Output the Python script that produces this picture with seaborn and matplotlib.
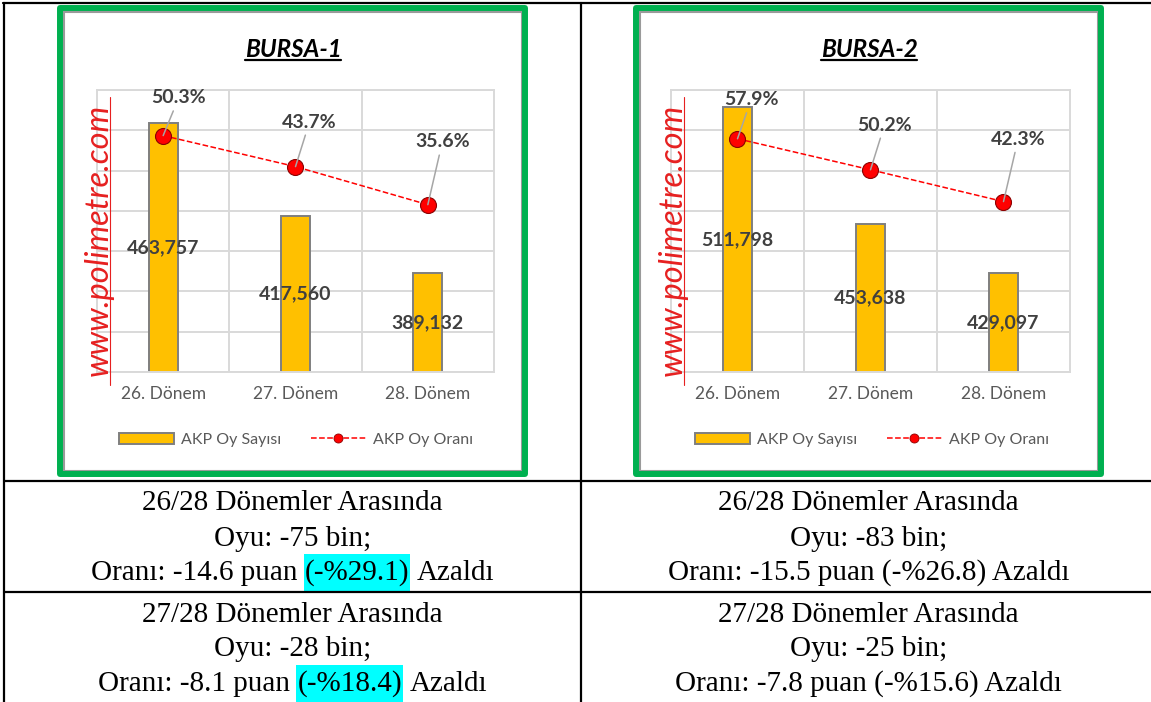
import numpy as np
import pandas as pd
import seaborn as sns
import matplotlib.pyplot as plt
from matplotlib.lines import Line2D
from matplotlib.patches import Patch, Rectangle

# values
donemler = ['26. Dönem', '27. Dönem', '28. Dönem']
bursa1_oy = [463757, 417560, 389132]
bursa1_oran = [50.3, 43.7, 35.6]
bursa2_oy = [511798, 453638, 429097]
bursa2_oran = [57.9, 50.2, 42.3]

legend_labels = ['AKP Oy Sayısı', 'AKP Oy Oranı']
watermark = 'www.polimetre.com'

# table cells under the charts (3-part lines carry a highlighted middle piece)
bursa1_notes = [
    ['26/28 Dönemler Arasında', 'Oyu: -75 bin;', ('Oranı: -14.6 puan', '(-%29.1)', 'Azaldı')],
    ['27/28 Dönemler Arasında', 'Oyu: -28 bin;', ('Oranı: -8.1 puan', '(-%18.4)', 'Azaldı')],
]
bursa2_notes = [
    ['26/28 Dönemler Arasında', 'Oyu: -83 bin;', 'Oranı: -15.5 puan (-%26.8) Azaldı'],
    ['27/28 Dönemler Arasında', 'Oyu: -25 bin;', 'Oranı: -7.8 puan (-%15.6) Azaldı'],
]

W, H = 1151, 702
BAR = '#FFC000'
GRID = '#d9d9d9'
TXT = '#404040'
SERIF = ['Liberation Serif', 'DejaVu Serif']

sns.set_theme(style='white')
plt.rcParams['font.family'] = ['Lato', 'DejaVu Sans']


def fx(x):
    return x / W


def fy(y):
    return 1 - y / H


fig = plt.figure(figsize=(W / 100, H / 100), dpi=100)
fig.patch.set_facecolor('white')

charts = [
    dict(title='BURSA-1', oy=bursa1_oy, oran=bursa1_oran, ylim=(340000, 480000), ylim2=(0, 60),
         frame=(60, 525), plot=(97, 494), title_x=293, legend_x=296, wm_x=99,
         offsets=[(15.5, 37.7), (14, 44.6), (14.5, 62.7)]),
    dict(title='BURSA-2', oy=bursa2_oy, oran=bursa2_oran, ylim=(380000, 520000), ylim2=(0, 70),
         frame=(636.3, 1101), plot=(671, 1070), title_x=869, legend_x=872, wm_x=673,
         offsets=[(13.6, 39), (14, 44.7), (14.6, 62.3)]),
]

renderer = fig.canvas.get_renderer()

for c in charts:
    # green frame with thin grey inner border
    x0, x1 = c['frame']
    fig.add_artist(Rectangle((fx(x0 + 3.5), fy(470.5)), (x1 - x0 - 7) / W, (470.5 - 11.5) / H,
                             transform=fig.transFigure, fill=False, ec='#9a9a9a', lw=1.5))
    fig.add_artist(Rectangle((fx(x0), fy(474)), (x1 - x0) / W, (474 - 8) / H,
                             transform=fig.transFigure, fill=False, ec='#00b050', lw=4.3,
                             joinstyle='round'))

    p0, p1 = c['plot']
    ax = fig.add_axes([fx(p0), fy(372), (p1 - p0) / W, (372 - 90) / H])
    sns.barplot(x=donemler, y=c['oy'], ax=ax, color=BAR, saturation=1, width=0.22,
                edgecolor='#7f7f7f', linewidth=1.4, zorder=2)
    lo, hi = c['ylim']
    ax.set_ylim(lo, hi)
    ax.set_xlim(-0.5, 2.5)
    ax.set_yticks(np.arange(lo, hi + 1, 20000))
    ax.set_yticklabels([])
    for i, v in enumerate(c['oy']):
        ax.text(i, (lo + v) / 2, f'{v:,}', ha='center', va='center', fontsize=14,
                fontweight='bold', color=TXT, zorder=4)

    ax2 = ax.twinx()
    sns.pointplot(x=donemler, y=c['oran'], ax=ax2, color='red', markers='o', linestyles='--',
                  errorbar=None, markersize=11.5, markeredgecolor='#8b0000',
                  markeredgewidth=0.8, linewidth=1.1)
    ax2.set_ylim(*c['ylim2'])
    ax2.set_yticks([])
    for s in ax2.spines.values():
        s.set_visible(False)
    for i, v in enumerate(c['oran']):
        ax2.annotate(f'{v}%', xy=(i, v), xytext=c['offsets'][i], textcoords='offset pixels',
                     ha='center', va='center', fontsize=14, fontweight='bold', color=TXT,
                     arrowprops=dict(arrowstyle='-', color='#a6a6a6', lw=1.1,
                                     shrinkA=1, shrinkB=0))

    ax.set_xlabel('')
    ax.set_ylabel('')
    ax2.set_ylabel('')
    ax.tick_params(axis='x', length=0, labelsize=12.5, labelcolor='#595959', pad=10)
    ax.tick_params(axis='y', length=0)
    ax.set_xticks([0.5, 1.5], minor=True)
    ax.xaxis.grid(False, which='major')
    ax.xaxis.grid(True, which='minor', color=GRID, lw=1.4)
    ax.yaxis.grid(True, color=GRID, lw=1.4)
    ax.set_axisbelow(True)
    for s in ax.spines.values():
        s.set_visible(True)
        s.set_color(GRID)
        s.set_linewidth(1.4)

    handles = [Patch(facecolor=BAR, edgecolor='#7f7f7f', lw=1.4),
               Line2D([], [], color='red', ls='--', lw=1.1, marker='o', markersize=6.5,
                      markerfacecolor='red', markeredgecolor='#8b0000', markeredgewidth=0.6)]
    ax.legend(handles, legend_labels, loc='center', bbox_to_anchor=(fx(c['legend_x']), fy(440)),
              bbox_transform=fig.transFigure, ncol=2, frameon=False, fontsize=11.5,
              handlelength=3.4, handleheight=0.7, handletextpad=0.45, columnspacing=1.9,
              labelcolor='#595959')

    # title, underlined
    t = fig.text(fx(c['title_x']), fy(56.7), c['title'], ha='center', va='baseline', fontsize=17.5,
                 fontweight='bold', style='italic', color='black')
    bb = t.get_window_extent(renderer)
    fig.add_artist(Line2D([bb.x0 / W, bb.x1 / W], [fy(59.5), fy(59.5)],
                          transform=fig.transFigure, color='black', lw=1.6))

    # watermark with its underline
    fig.text(fx(c['wm_x']), fy(240), watermark, rotation=90, ha='center', va='center',
             fontsize=23.5, style='italic', color='#e62020', zorder=5)
    fig.add_artist(Line2D([fx(c['wm_x'] + 11)] * 2, [fy(97), fy(385)],
                          transform=fig.transFigure, color='#e62020', lw=0.8, zorder=5))


def serif_line(cx, base, piece):
    kw = dict(fontsize=21, family=SERIF, va='baseline', color='black', zorder=3)
    if isinstance(piece, str):
        fig.text(fx(cx), fy(base), piece, ha='center', **kw)
        return
    ts = [fig.text(0, fy(base), p, ha='left', **kw) for p in piece]
    ws = [t.get_window_extent(renderer).width for t in ts]
    a = fig.text(0, 0, 'x x', **kw)
    b = fig.text(0, 0, 'xx', **kw)
    sp = a.get_window_extent(renderer).width - b.get_window_extent(renderer).width
    a.remove()
    b.remove()
    x = cx - (sum(ws) + sp * (len(ws) - 1)) / 2
    for i, (t, w) in enumerate(zip(ts, ws)):
        t.set_x(fx(x))
        if i == 1:
            fig.add_artist(Rectangle((fx(x - 1), fy(base + 11)), (w + 2) / W, 37 / H,
                                     transform=fig.transFigure, color='#00ffff', lw=0, zorder=1))
        x += w + sp


row_bases = [[510.5, 545.5, 580], [621.5, 656.5, 691]]
for cx, notes in [(292.5, bursa1_notes), (868.6, bursa2_notes)]:
    for bases, cell in zip(row_bases, notes):
        for base, piece in zip(bases, cell):
            serif_line(cx, base, piece)

# table grid
lw_tab = 1.6
for xs, ys in [([fx(3), 1], [fy(3), fy(3)]),
               ([fx(4), fx(4)], [fy(3), 0]),
               ([fx(581), fx(581)], [fy(3), 0]),
               ([fx(4), 1], [fy(480.5), fy(480.5)]),
               ([fx(4), 1], [fy(591.5), fy(591.5)])]:
    fig.add_artist(Line2D(xs, ys, transform=fig.transFigure, color='black', lw=lw_tab, zorder=6))

fig.savefig('out.png', dpi=100)
